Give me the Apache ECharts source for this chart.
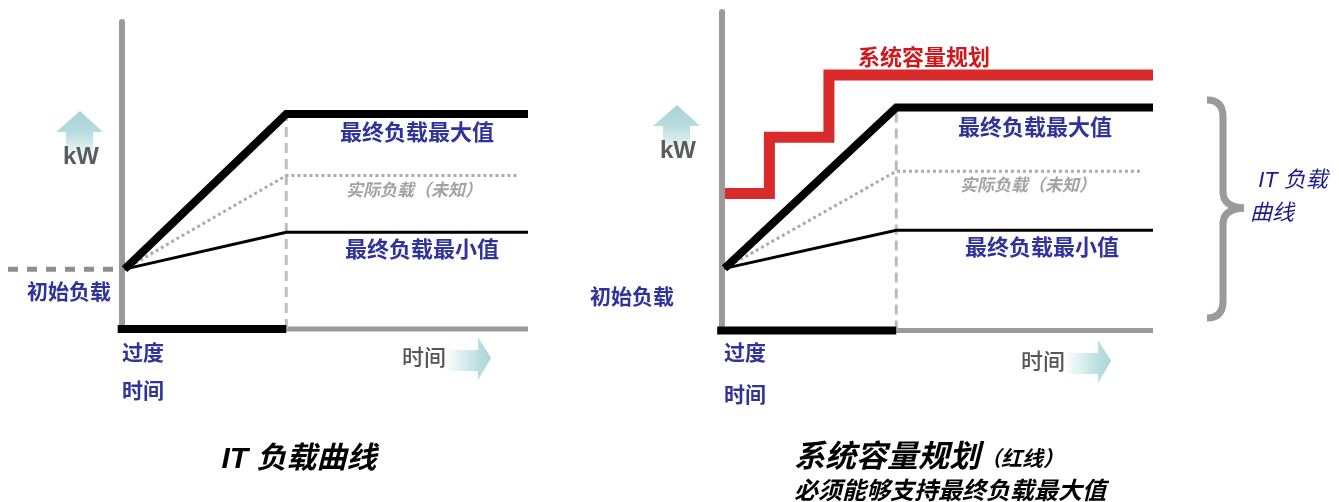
<!DOCTYPE html>
<html>
<head>
<meta charset="utf-8">
<script src="https://cdn.jsdelivr.net/npm/echarts@6/dist/echarts.min.js"></script>
<style>
html,body{margin:0;padding:0;background:#fff;}
#chart{width:1339px;height:502px;}
</style>
</head>
<body>
<div id="chart"></div>
<script>
// ---- data (time in % of horizon, load in % of kW scale) ----
const transitionEnd = 40.5;
const initialLoad = 19.5;
const finalMax = 70;
const finalMin = 31.5;
const actualLoad = 50;
const maxLoadLine = [[0.7, initialLoad], [transitionEnd, finalMax], [100, finalMax]];
const minLoadLine = [[0.7, initialLoad], [transitionEnd, finalMin], [100, finalMin]];
const actualLoadLeft = [[0.7, initialLoad], [transitionEnd, actualLoad], [97.5, actualLoad]];
const actualLoadRight = [[0.7, initialLoad], [transitionEnd, actualLoad], [97, actualLoad]];
const transitionMarker = [[transitionEnd, 0], [transitionEnd, finalMax]];
const transitionBar = [[-1, 0], [transitionEnd, 0]];
const timeRest = [[transitionEnd, 0], [100, 0]];
const initialDash = [[-28, initialLoad], [-1, initialLoad]];
const capacityPlan = [[0.8, 43], [11.1, 43], [11.1, 60.7], [24.9, 60.7], [24.9, 80.2], [100, 80.2]];

const labels = {
  max: '最终负载最大值', min: '最终负载最小值', actual: '实际负载（未知）',
  initial: '初始负载', trans1: '过度', trans2: '时间', time: '时间', kw: 'kW',
  capacity: '系统容量规划', brace1: 'IT 负载', brace2: '曲线',
  title1: 'IT 负载曲线', title2a: '系统容量规划', title2b: '（红线）',
  title2c: '必须能够支持最终负载最大值'
};

const CJK = '"Noto Sans CJK SC"';
const NAVY = '#30339A';
const GRAY_AX = '#9a9a9a';

function axisPair(idx, xmin) {
  return {
    x: { gridIndex: idx, type: 'value', min: xmin, max: 100, axisLine: { show: false }, axisTick: { show: false }, axisLabel: { show: false }, splitLine: { show: false } },
    y: { gridIndex: idx, type: 'value', min: 0, max: 100, axisLine: { show: true, onZero: true, lineStyle: { color: GRAY_AX, width: 6 } }, axisTick: { show: false }, axisLabel: { show: false }, splitLine: { show: false } }
  };
}
const a0 = axisPair(0, -28), a1 = axisPair(1, 0);

function line(idx, data, color, width, type, z) {
  return {
    type: 'line', xAxisIndex: idx, yAxisIndex: idx, data: data, symbol: 'none', clip: false, silent: true,
    animation: false, z: z,
    lineStyle: { color: color, width: width, type: type || 'solid', join: 'miter', cap: 'butt' }
  };
}

const series = [];
[0, 1].forEach(function (i) {
  series.push(line(i, timeRest, GRAY_AX, 5, 'solid', 2));
  series.push(line(i, transitionBar, '#000', 8, 'solid', 3));
  series.push(line(i, transitionMarker, '#bdbdbd', 3, [10, 6], 2));
  series.push(line(i, i === 0 ? actualLoadLeft : actualLoadRight, '#ababab', 3, [3, 3], 3));
  series.push(line(i, minLoadLine, '#000', 3, 'solid', 4));
  series.push(line(i, maxLoadLine, '#000', 8, 'solid', 5));
});
series.push(line(0, initialDash, '#8e8e8e', 5, [10, 9], 3));
series.push(line(1, capacityPlan, '#D92B2B', 11, 'solid', 6));

function txt(text, x, y, font, fill) {
  return { type: 'text', x: x, y: y, z: 100, silent: true,
    style: { text: text, font: font, fill: fill, textAlign: 'center', textVerticalAlign: 'middle', align: 'center', verticalAlign: 'middle' } };
}
function upArrow(cx, tipY) {
  return { type: 'polygon', z: 50, silent: true,
    shape: { points: [[cx, tipY], [cx + 23, tipY + 21], [cx + 13, tipY + 21], [cx + 13, tipY + 60], [cx - 14, tipY + 60], [cx - 14, tipY + 21], [cx - 24, tipY + 21]] },
    style: { fill: { type: 'linear', x: 0, y: 0, x2: 0, y2: 1, colorStops: [
      { offset: 0, color: '#a9d3d7' }, { offset: 0.35, color: '#b8dcdf' }, { offset: 0.85, color: '#ffffff' }, { offset: 1, color: '#ffffff' }] } } };
}
function rightArrow(tipX, cy) {
  return { type: 'polygon', z: 50, silent: true,
    shape: { points: [[tipX, cy], [tipX - 13, cy + 22], [tipX - 13, cy + 13], [tipX - 86, cy + 13], [tipX - 86, cy - 8], [tipX - 13, cy - 8], [tipX - 13, cy - 21]] },
    style: { fill: { type: 'linear', x: 0, y: 0, x2: 1, y2: 0, colorStops: [
      { offset: 0, color: '#ffffff' }, { offset: 0.45, color: '#ffffff' }, { offset: 0.85, color: '#bcdfe1' }, { offset: 1, color: '#a9d3d7' }] } } };
}
const braceStyle = { fill: 'none', stroke: '#9a9a9a', lineWidth: 7 };
function bez(x1, y1, cx, cy, x2, y2) {
  return { type: 'bezierCurve', z: 50, silent: true, shape: { x1: x1, y1: y1, cpx1: cx, cpy1: cy, x2: x2, y2: y2 }, style: braceStyle };
}
function seg(x1, y1, x2, y2) {
  return { type: 'line', z: 50, silent: true, shape: { x1: x1, y1: y1, x2: x2, y2: y2 }, style: braceStyle };
}

const labelFont = 'bold 22px ' + CJK;
const smallNavy = 'bold 21px ' + CJK;
const actualFont = 'italic bold 17px ' + CJK;
const graphics = [
  upArrow(80, 111), upArrow(677, 105),
  rightArrow(491, 358), rightArrow(1111, 361),
  txt(labels.kw, 81, 157, 'bold 24px "Liberation Sans", Arial', '#5b5b5b'),
  txt(labels.kw, 678, 151, 'bold 24px "Liberation Sans", Arial', '#5b5b5b'),
  txt(labels.time, 424, 357, '500 22px ' + CJK, '#555555'),
  txt(labels.time, 1043, 361, '500 22px ' + CJK, '#555555'),
  // left panel
  txt(labels.max, 417, 132, labelFont, NAVY),
  txt(labels.actual, 414, 190, actualFont, '#a3a3a3'),
  txt(labels.min, 422, 249, labelFont, NAVY),
  txt(labels.initial, 69, 291, smallNavy, NAVY),
  txt(labels.trans1, 143, 352, smallNavy, NAVY),
  txt(labels.trans2, 143, 390, smallNavy, NAVY),
  // right panel
  txt(labels.capacity, 924, 57, 'bold 22px ' + CJK, '#D0181C'),
  txt(labels.max, 1035, 127, labelFont, NAVY),
  txt(labels.actual, 1028, 185, actualFont, '#a3a3a3'),
  txt(labels.min, 1042, 247, labelFont, NAVY),
  txt(labels.initial, 632, 296, smallNavy, NAVY),
  txt(labels.trans1, 745, 352, smallNavy, NAVY),
  txt(labels.trans2, 745, 394, smallNavy, NAVY),
  // brace
  bez(1207, 100, 1223, 100, 1223, 117),
  seg(1223, 116, 1223, 193),
  bez(1223, 192, 1223, 207, 1244, 208),
  bez(1244, 208, 1223, 209, 1223, 224),
  seg(1223, 223, 1223, 302),
  bez(1223, 301, 1223, 318, 1207, 318),
  txt(labels.brace1, 1293, 181, 'italic 22px "Liberation Sans", ' + CJK, '#1b1b88'),
  txt(labels.brace2, 1272, 212, 'italic 22px ' + CJK, '#1b1b88'),
  // titles
  txt(labels.title1, 299, 460, 'italic bold 30px "Liberation Sans", ' + CJK, '#000'),
  txt(labels.title2a, 887, 455, 'italic bold 31px ' + CJK, '#000'),
  txt(labels.title2b, 1022, 458, 'italic bold 21px ' + CJK, '#000'),
  txt(labels.title2c, 950, 490, 'italic bold 24px ' + CJK, '#000')
];

const chart = echarts.init(document.getElementById('chart'), null, { renderer: 'canvas' });
chart.setOption({
  backgroundColor: '#ffffff',
  animation: false,
  grid: [
    { left: 8, right: 811, top: 22, bottom: 173 },
    { left: 721.5, right: 186, top: 12, bottom: 171.5 }
  ],
  xAxis: [a0.x, a1.x],
  yAxis: [a0.y, a1.y],
  series: series,
  graphic: graphics
});
</script>
</body>
</html>
